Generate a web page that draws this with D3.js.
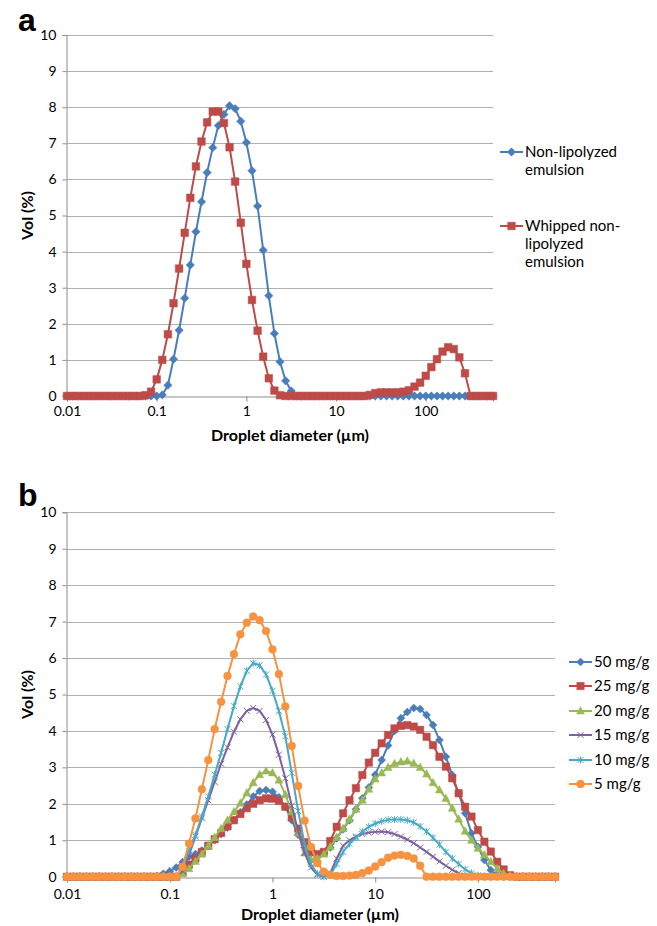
<!DOCTYPE html>
<html>
<head>
<meta charset="utf-8">
<script src="https://cdn.jsdelivr.net/npm/d3@7"></script>
<style>
  body { margin: 0; background: #fff; }
  svg text { font-family: Lato, "Open Sans", sans-serif; fill: #000; }
</style>
</head>
<body>
<div id="box"></div>
<script>
'use strict';

// particle size classes (µm), log spaced
var sizes = [
  0.01, 0.01155, 0.01334, 0.0154, 0.01778, 0.02054, 0.02371, 0.02738, 0.03162, 0.03652, 0.04217, 0.0487, 0.05623, 0.06494, 0.07499, 0.0866,
  0.1, 0.1155, 0.1334, 0.154, 0.1778, 0.2054, 0.2371, 0.2738, 0.3162, 0.3652, 0.4217, 0.487, 0.5623, 0.6494, 0.7499, 0.866,
  1, 1.155, 1.334, 1.54, 1.778, 2.054, 2.371, 2.738, 3.162, 3.652, 4.217, 4.87, 5.623, 6.494, 7.499, 8.66,
  10, 11.55, 13.34, 15.4, 17.78, 20.54, 23.71, 27.38, 31.62, 36.52, 42.17, 48.7, 56.23, 64.94, 74.99, 86.6,
  100, 115.5, 133.4, 154, 177.8, 205.4, 237.1, 273.8, 316.2, 365.2, 421.7, 487, 562.3
];
var xTickValues = [0.01, 0.1, 1, 10, 100];
var xTickLabels = ["0.01", "0.1", "1", "10", "100"];
var yTickValues = [0, 1, 2, 3, 4, 5, 6, 7, 8, 9, 10];

// panel a
var nonLipolyzed = [
  0, 0, 0, 0, 0, 0, 0, 0, 0, 0, 0, 0, 0, 0, 0, 0,
  0, 0.03, 0.30, 1.02, 1.82, 2.71, 3.63, 4.55, 5.38, 6.19, 6.88, 7.49, 7.80, 8.04, 7.96, 7.61,
  7.02, 6.24, 5.26, 4.04, 2.78, 1.73, 0.95, 0.42, 0.14, 0, 0, 0, 0, 0, 0, 0,
  0, 0, 0, 0, 0, 0, 0, 0, 0, 0, 0, 0, 0, 0, 0, 0,
  0, 0, 0, 0, 0, 0, 0, 0, 0, 0, 0, 0, 0
];
var whippedNonLipolyzed = [
  0, 0, 0, 0, 0, 0, 0, 0, 0, 0, 0, 0, 0, 0, 0.02, 0.12,
  0.46, 1.00, 1.71, 2.57, 3.53, 4.52, 5.49, 6.36, 7.05, 7.58, 7.88, 7.88, 7.56, 6.89, 5.94, 4.80,
  3.66, 2.66, 1.81, 1.09, 0.49, 0.15, 0.02, 0, 0, 0, 0, 0, 0, 0, 0, 0,
  0, 0, 0, 0, 0, 0, 0.03, 0.08, 0.10, 0.10, 0.10, 0.10, 0.12, 0.16, 0.26, 0.37,
  0.56, 0.80, 1.02, 1.23, 1.35, 1.30, 1.07, 0.63, 0, 0, 0, 0, 0
];

// panel b
var mg50 = [
  0, 0, 0, 0, 0, 0, 0, 0, 0, 0, 0, 0, 0, 0, 0.02, 0.08,
  0.15, 0.25, 0.40, 0.55, 0.62, 0.72, 0.85, 1.00, 1.17, 1.35, 1.55, 1.77, 1.98, 2.20, 2.35, 2.38,
  2.33, 2.18, 1.92, 1.55, 1.15, 0.80, 0.64, 0.60, 0.65, 0.80, 1.05, 1.30, 1.55, 1.85, 2.15, 2.45,
  2.80, 3.20, 3.60, 4.00, 4.35, 4.52, 4.63, 4.60, 4.44, 4.16, 3.75, 3.29, 2.79, 2.29, 1.74, 1.19,
  0.82, 0.46, 0.18, 0.05, 0.01, 0, 0, 0, 0, 0, 0, 0, 0
];
var mg25 = [
  0, 0, 0, 0, 0, 0, 0, 0, 0, 0, 0, 0, 0, 0, 0, 0,
  0, 0, 0.12, 0.33, 0.50, 0.68, 0.85, 1.03, 1.20, 1.38, 1.55, 1.72, 1.88, 2.00, 2.10, 2.15,
  2.14, 2.08, 1.92, 1.63, 1.32, 0.95, 0.68, 0.62, 0.68, 0.98, 1.37, 1.74, 2.10, 2.43, 2.79, 3.13,
  3.40, 3.66, 3.89, 4.07, 4.14, 4.16, 4.12, 4.03, 3.84, 3.61, 3.29, 3.02, 2.70, 2.29, 1.92, 1.65,
  1.28, 0.96, 0.69, 0.41, 0.20, 0.04, 0, 0, 0, 0, 0, 0, 0
];
var mg20 = [
  0, 0, 0, 0, 0, 0, 0, 0, 0, 0, 0, 0, 0, 0, 0, 0,
  0, 0, 0.08, 0.22, 0.42, 0.62, 0.85, 1.08, 1.32, 1.55, 1.78, 2.02, 2.30, 2.58, 2.80, 2.90,
  2.85, 2.65, 2.25, 1.78, 1.20, 0.65, 0.47, 0.50, 0.62, 0.82, 1.08, 1.32, 1.58, 1.85, 2.10, 2.40,
  2.68, 2.85, 3.00, 3.10, 3.15, 3.17, 3.11, 3.00, 2.82, 2.58, 2.38, 2.15, 1.88, 1.58, 1.25, 1.00,
  0.78, 0.60, 0.41, 0.22, 0.09, 0.02, 0, 0, 0, 0, 0, 0, 0
];
var mg15 = [
  0, 0, 0, 0, 0, 0, 0, 0, 0, 0, 0, 0, 0, 0, 0, 0,
  0, 0, 0.15, 0.60, 1.10, 1.60, 2.10, 2.60, 3.10, 3.55, 3.98, 4.32, 4.55, 4.63, 4.55, 4.30,
  3.90, 3.35, 2.70, 1.95, 1.25, 0.65, 0.25, 0.05, 0, 0.10, 0.50, 0.85, 1.00, 1.10, 1.17, 1.21,
  1.23, 1.24, 1.22, 1.17, 1.10, 1.02, 0.92, 0.80, 0.68, 0.55, 0.42, 0.30, 0.19, 0.10, 0.03, 0,
  0, 0, 0, 0, 0, 0, 0, 0, 0, 0, 0, 0, 0
];
var mg10 = [
  0, 0, 0, 0, 0, 0, 0, 0, 0, 0, 0, 0, 0, 0, 0, 0,
  0, 0, 0.25, 0.70, 1.15, 1.65, 2.20, 2.80, 3.40, 4.05, 4.68, 5.22, 5.65, 5.86, 5.80, 5.55,
  5.10, 4.55, 3.85, 2.85, 1.80, 0.90, 0.35, 0.08, 0, 0.05, 0.35, 0.68, 0.90, 1.07, 1.24, 1.37,
  1.46, 1.52, 1.56, 1.57, 1.57, 1.55, 1.49, 1.38, 1.24, 1.07, 0.88, 0.68, 0.50, 0.35, 0.20, 0.10,
  0.04, 0, 0, 0, 0, 0, 0, 0, 0, 0, 0, 0, 0
];
var mg5 = [
  0, 0, 0, 0, 0, 0, 0, 0, 0, 0, 0, 0, 0, 0, 0, 0,
  0, 0, 0.27, 0.91, 1.60, 2.40, 3.20, 4.05, 4.80, 5.51, 6.11, 6.65, 6.97, 7.14, 7.04, 6.74,
  6.24, 5.56, 4.67, 3.59, 2.49, 1.54, 0.82, 0.37, 0.14, 0.05, 0.02, 0.02, 0.03, 0.05, 0.10, 0.17,
  0.28, 0.40, 0.52, 0.58, 0.60, 0.57, 0.50, 0.30, 0, 0, 0, 0, 0, 0, 0, 0,
  0, 0, 0, 0, 0, 0, 0, 0, 0, 0, 0, 0, 0
];

var width = 657, height = 926;

var svg = d3.select("#box")
  .append("svg")
    .attr("width", width)
    .attr("height", height);

function markerPath(type, r) {
  var p = d3.path();
  if (type === "diamond") {
    p.moveTo(0, -r); p.lineTo(r, 0); p.lineTo(0, r); p.lineTo(-r, 0); p.closePath();
  } else if (type === "square") {
    p.rect(-r, -r, 2 * r, 2 * r);
  } else if (type === "triangle") {
    p.moveTo(0, -r * 1.15); p.lineTo(r * 1.05, r * 0.8); p.lineTo(-r * 1.05, r * 0.8); p.closePath();
  } else if (type === "circle") {
    p.moveTo(r, 0); p.arc(0, 0, r, 0, 2 * Math.PI);
  } else if (type === "x") {
    p.moveTo(-r, -r); p.lineTo(r, r); p.moveTo(r, -r); p.lineTo(-r, r);
  } else if (type === "star") {
    p.moveTo(-r, -r); p.lineTo(r, r); p.moveTo(r, -r); p.lineTo(-r, r);
    p.moveTo(0, -r * 1.2); p.lineTo(0, r * 1.2);
  }
  return p.toString();
}

function drawMarker(g, type, r, color) {
  var open = (type === "x" || type === "star");
  g.append("path")
    .attr("d", markerPath(type, r))
    .attr("fill", open ? "none" : color)
    .attr("stroke", color)
    .attr("stroke-width", open ? 1 : 0.5);
}

function drawPanel(cfg) {
  var g = svg.append("g");

  var x = d3.scaleLog()
    .domain([sizes[0], sizes[sizes.length - 1]])
    .range([cfg.left, cfg.right]);
  var y = d3.scaleLinear()
    .domain([0, 10])
    .range([cfg.bottom, cfg.top]);

  // horizontal grid lines
  g.append("g")
    .selectAll("line")
    .data(yTickValues.slice(1))
    .join("line")
      .attr("x1", cfg.left)
      .attr("x2", cfg.right)
      .attr("y1", function(d) { return Math.round(y(d)) + 0.5; })
      .attr("y2", function(d) { return Math.round(y(d)) + 0.5; })
      .attr("stroke", "#b0b0b0")
      .attr("stroke-width", 1);

  // y axis
  var yAxis = g.append("g")
    .attr("transform", "translate(" + (Math.round(cfg.left) - 0.5) + ",0)")
    .call(d3.axisLeft(y).tickValues(yTickValues).tickSize(4).tickPadding(6).tickFormat(d3.format("d")));
  yAxis.select(".domain").attr("stroke", "#8c8c8c");
  yAxis.selectAll(".tick line").attr("stroke", "#8c8c8c");
  yAxis.selectAll("text").style("font-size", "14px").attr("fill", "#000");

  // x axis
  var xAxis = g.append("g")
    .attr("transform", "translate(0," + (Math.round(cfg.bottom) + 0.5) + ")")
    .call(d3.axisBottom(x).tickValues(xTickValues).tickSize(5).tickPadding(cfg.xPad)
      .tickFormat(function(d, i) { return xTickLabels[i]; }));
  xAxis.select(".domain").attr("stroke", "#8c8c8c");
  xAxis.selectAll(".tick line").attr("stroke", "#8c8c8c");
  xAxis.selectAll("text").style("font-size", "14px").attr("fill", "#000");

  // axis titles
  g.append("text")
    .attr("x", cfg.xTitleX)
    .attr("y", cfg.xTitleY)
    .style("text-anchor", "middle")
    .style("font-size", "16px")
    .style("font-weight", "bold")
    .text("Droplet diameter (µm)");
  g.append("text")
    .attr("transform", "translate(33," + ((cfg.top + cfg.bottom) / 2) + ") rotate(-90)")
    .style("text-anchor", "middle")
    .style("font-size", "16px")
    .style("font-weight", "bold")
    .text("Vol (%)");

  // panel letter
  g.append("text")
    .attr("x", 18)
    .attr("y", cfg.letterY)
    .style("font-family", "'Liberation Sans', Arial, sans-serif")
    .style("font-size", "32px")
    .style("font-weight", "bold")
    .text(cfg.letter);

  var line = d3.line()
    .x(function(d, i) { return x(sizes[i]); })
    .y(function(d) { return y(d); });

  cfg.series.forEach(function(s) {
    g.append("path")
      .datum(s.values)
      .attr("fill", "none")
      .attr("stroke", s.color)
      .attr("stroke-width", 2)
      .attr("stroke-linejoin", "round")
      .attr("d", line);
    var pts = g.append("g");
    s.values.forEach(function(v, i) {
      var m = pts.append("g").attr("transform", "translate(" + x(sizes[i]) + "," + y(v) + ")");
      drawMarker(m, s.marker, s.r, s.color);
    });
  });

  // legend
  var lg = g.append("g");
  cfg.series.forEach(function(s, k) {
    var item = lg.append("g")
      .attr("transform", "translate(" + cfg.legendX + "," + cfg.legendY[k] + ")");
    item.append("line")
      .attr("x1", 0).attr("x2", 23)
      .attr("stroke", s.color)
      .attr("stroke-width", 2);
    var m = item.append("g").attr("transform", "translate(11.5,0)");
    drawMarker(m, s.marker, s.r, s.color);
    s.label.forEach(function(t, j) {
      item.append("text")
        .attr("x", 25)
        .attr("y", 5 + j * cfg.legendLine)
        .style("font-size", cfg.legendFont)
        .text(t);
    });
  });
}

drawPanel({
  letter: "a", letterY: 31,
  left: 67, right: 493, top: 35, bottom: 396,
  xPad: 5, xTitleX: 290, xTitleY: 441,
  legendX: 500, legendY: [152, 226], legendLine: 18, legendFont: "15px",
  series: [
    { values: nonLipolyzed, color: "#4a7ebb", marker: "diamond", r: 4.2, label: ["Non-lipolyzed", "emulsion"] },
    { values: whippedNonLipolyzed, color: "#be4b48", marker: "square", r: 3.8, label: ["Whipped non-", "lipolyzed", "emulsion"] }
  ]
});

drawPanel({
  letter: "b", letterY: 506,
  left: 67, right: 555, top: 512.3, bottom: 876.7,
  xPad: 7, xTitleX: 320, xTitleY: 920,
  legendX: 569, legendY: [662, 686, 711, 735, 760, 784], legendLine: 18, legendFont: "15px",
  series: [
    { values: mg50, color: "#4a7ebb", marker: "diamond", r: 4, label: ["50 mg/g"] },
    { values: mg25, color: "#be4b48", marker: "square", r: 3.7, label: ["25 mg/g"] },
    { values: mg20, color: "#98b954", marker: "triangle", r: 3.8, label: ["20 mg/g"] },
    { values: mg15, color: "#7d60a0", marker: "x", r: 3, label: ["15 mg/g"] },
    { values: mg10, color: "#46aac5", marker: "star", r: 3, label: ["10 mg/g"] },
    { values: mg5, color: "#f69240", marker: "circle", r: 3.9, label: ["5 mg/g"] }
  ]
});
</script>
</body>
</html>
